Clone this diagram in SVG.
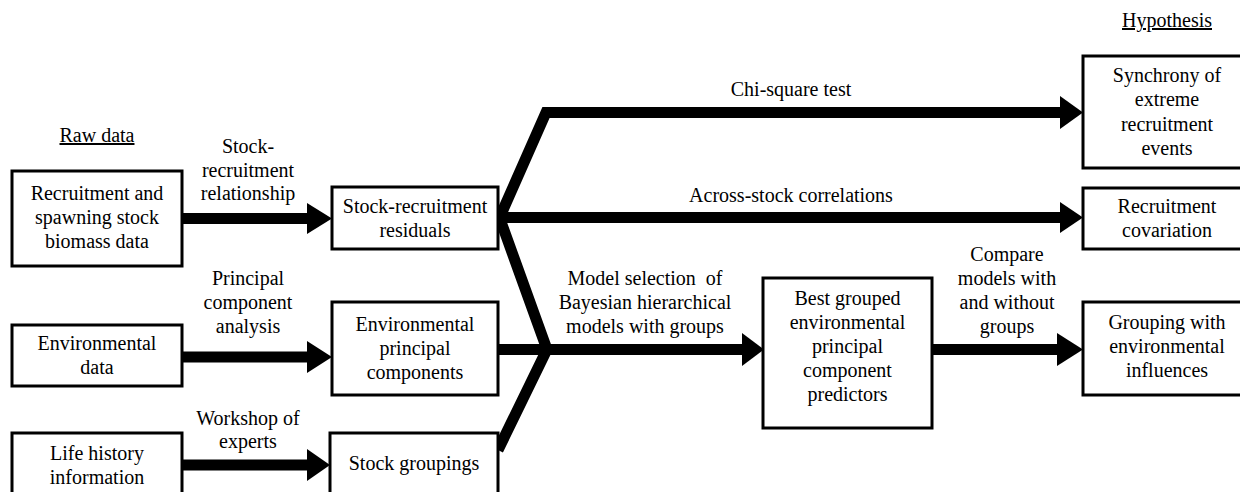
<svg xmlns="http://www.w3.org/2000/svg" width="1240" height="492" viewBox="0 0 1240 492">
<style>
text{font-family:"Liberation Serif","Times New Roman",Times,Tinos,"Nimbus Roman","Nimbus Roman No9 L",FreeSerif,"DejaVu Serif","Noto Serif",serif;font-size:20px;fill:#000;text-anchor:middle}
.box{fill:#fff;stroke:#000;stroke-width:3}
.flow{fill:none;stroke:#000;stroke-width:11;stroke-linejoin:miter;stroke-miterlimit:10}
.head{fill:#000}
.u{text-decoration:underline}
</style>
<rect width="1240" height="492" fill="#fff"/>
<g id="headings">
<text class="u" x="97" y="142">Raw data</text>
<text class="u" x="1167" y="27">Hypothesis</text>
</g>
<g id="connectors">
<path class="flow" d="M182,218.5H309"/>
<polygon class="head" points="307,203 332,218.5 307,234"/>
<path class="flow" d="M182,357H309"/>
<polygon class="head" points="307,341 332,357 307,373"/>
<path class="flow" d="M182,465H309"/>
<polygon class="head" points="307,449 330,465 307,481"/>
<path class="flow" d="M499,219L546,112.5H1062"/>
<polygon class="head" points="1060,96 1083,112.5 1060,129"/>
<path class="flow" d="M498,217.5H1062"/>
<polygon class="head" points="1060,202 1083,217.5 1060,233"/>
<path class="flow" d="M500,219L547,349.5L498,450"/>
<path class="flow" d="M498,349.5H744"/>
<polygon class="head" points="742,333 764,349.5 742,366"/>
<path class="flow" d="M932,349.5H1059"/>
<polygon class="head" points="1057,333 1083,349.5 1057,366"/>
<text x="248" y="153">Stock-</text>
<text x="248" y="177">recruitment</text>
<text x="248" y="200">relationship</text>
<text x="248" y="285">Principal</text>
<text x="248" y="309">component</text>
<text x="248" y="333">analysis</text>
<text x="248" y="425">Workshop of</text>
<text x="248" y="448">experts</text>
<text x="791" y="96">Chi-square test</text>
<text x="791" y="202">Across-stock correlations</text>
<text x="645" y="285" xml:space="preserve">Model selection  of</text>
<text x="645" y="309">Bayesian hierarchical</text>
<text x="645" y="333">models with groups</text>
<text x="1007" y="261">Compare</text>
<text x="1007" y="285">models with</text>
<text x="1007" y="309">and without</text>
<text x="1007" y="333">groups</text>
</g>
<g id="n-recruitment-data">
<rect class="box" x="12" y="171" width="170" height="95"/>
<text x="97" y="200">Recruitment and</text>
<text x="97" y="224">spawning stock</text>
<text x="97" y="248">biomass data</text>
</g>
<g id="n-environmental-data">
<rect class="box" x="12" y="325" width="170" height="61"/>
<text x="97" y="350">Environmental</text>
<text x="97" y="374">data</text>
</g>
<g id="n-life-history">
<rect class="box" x="12" y="433" width="170" height="80"/>
<text x="97" y="460">Life history</text>
<text x="97" y="484">information</text>
</g>
<g id="n-sr-residuals">
<rect class="box" x="332" y="187" width="166" height="62"/>
<text x="415" y="213">Stock-recruitment</text>
<text x="415" y="237">residuals</text>
</g>
<g id="n-env-pcs">
<rect class="box" x="332" y="302" width="166" height="93"/>
<text x="415" y="331">Environmental</text>
<text x="415" y="355">principal</text>
<text x="415" y="379">components</text>
</g>
<g id="n-stock-groupings">
<rect class="box" x="330" y="433" width="168" height="80"/>
<text x="414" y="470">Stock groupings</text>
</g>
<g id="n-best-grouped">
<rect class="box" x="763" y="278" width="169" height="150"/>
<text x="847.5" y="305">Best grouped</text>
<text x="847.5" y="329">environmental</text>
<text x="847.5" y="353">principal</text>
<text x="847.5" y="377">component</text>
<text x="847.5" y="401">predictors</text>
</g>
<g id="n-synchrony">
<rect class="box" x="1083" y="56" width="168" height="112"/>
<text x="1167" y="82">Synchrony of</text>
<text x="1167" y="106">extreme</text>
<text x="1167" y="131">recruitment</text>
<text x="1167" y="155">events</text>
</g>
<g id="n-covariation">
<rect class="box" x="1083" y="188" width="168" height="61"/>
<text x="1167" y="213">Recruitment</text>
<text x="1167" y="237">covariation</text>
</g>
<g id="n-grouping-env">
<rect class="box" x="1083" y="302" width="168" height="93"/>
<text x="1167" y="329">Grouping with</text>
<text x="1167" y="353">environmental</text>
<text x="1167" y="377">influences</text>
</g>
</svg>
